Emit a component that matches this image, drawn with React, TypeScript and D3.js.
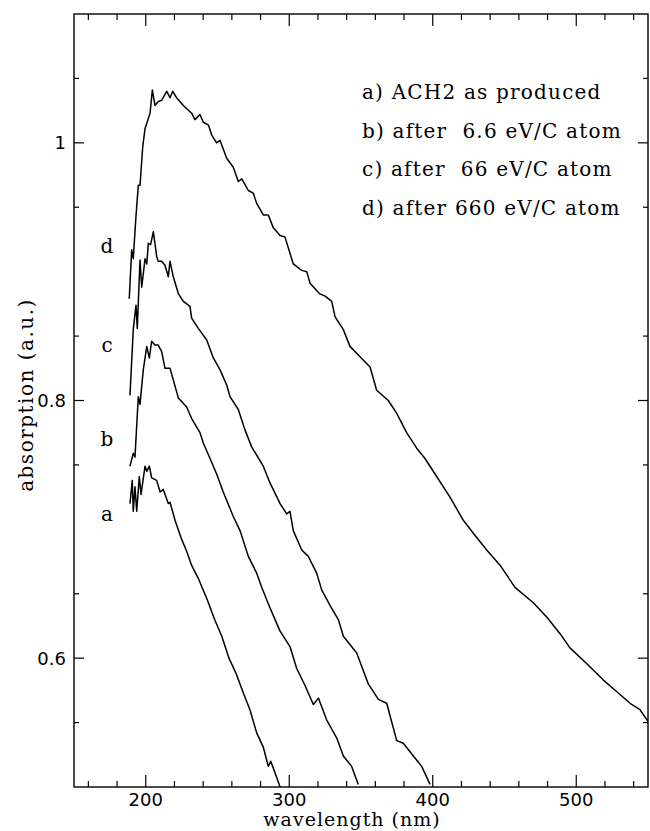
import React from "react";
import * as d3 from "d3";

// ---- data ----
const aNm = [189, 190.6, 191.3, 192.5, 193.7, 195.5, 196.7, 199.5, 200.7, 202.5, 204.1, 207.6, 210, 212.2, 215.7, 216.9, 220.4, 225.1, 228.5, 232, 236.6, 243, 248, 253, 258, 263, 268, 272.6, 277.3, 281.9, 285.4, 287.1, 290.1, 293.6];
const aVal = [0.72, 0.738, 0.714, 0.733, 0.714, 0.741, 0.727, 0.749, 0.745, 0.749, 0.74, 0.738, 0.729, 0.731, 0.72, 0.721, 0.707, 0.692, 0.683, 0.672, 0.662, 0.645, 0.63, 0.617, 0.6, 0.588, 0.573, 0.56, 0.542, 0.531, 0.516, 0.52, 0.511, 0.5];

const bNm = [189, 191.3, 192.5, 194.8, 196, 198.3, 200.7, 202.5, 204.1, 206.4, 208.7, 211.1, 213.4, 216.9, 219.2, 222.7, 228.5, 232, 237.8, 240.1, 244.8, 249.4, 254, 261, 265.7, 271.5, 277.3, 280.8, 286.6, 293.6, 300.5, 305.2, 310.9, 316.8, 320.3, 326.1, 333.1, 337.7, 343.5, 348.1];
const bVal = [0.749, 0.759, 0.756, 0.803, 0.797, 0.824, 0.842, 0.833, 0.846, 0.843, 0.843, 0.838, 0.825, 0.825, 0.816, 0.802, 0.795, 0.786, 0.775, 0.767, 0.755, 0.743, 0.729, 0.71, 0.699, 0.679, 0.666, 0.655, 0.639, 0.621, 0.609, 0.592, 0.579, 0.564, 0.569, 0.552, 0.538, 0.524, 0.516, 0.502];

const cNm = [189, 191.3, 193.2, 194.1, 196, 197.2, 199.5, 200.7, 201.8, 203.4, 205.3, 207.6, 208.7, 211.1, 213.4, 215.7, 216.9, 219.2, 222.7, 226.2, 230.8, 232, 236.6, 242.5, 247.1, 251.7, 256.4, 258.7, 264.5, 269.2, 273.8, 281.9, 286.6, 293.6, 298.2, 300.5, 302.8, 308.7, 313.3, 319.1, 322.6, 328.4, 334.2, 337.7, 347, 355.1, 362.1, 367.9, 374.9, 379.5, 386.5, 392.3, 398.1];
const cVal = [0.804, 0.855, 0.874, 0.856, 0.909, 0.888, 0.91, 0.906, 0.922, 0.921, 0.931, 0.912, 0.908, 0.908, 0.905, 0.896, 0.908, 0.896, 0.883, 0.877, 0.873, 0.864, 0.856, 0.847, 0.833, 0.824, 0.812, 0.803, 0.793, 0.777, 0.764, 0.749, 0.736, 0.72, 0.712, 0.714, 0.699, 0.684, 0.679, 0.666, 0.653, 0.641, 0.63, 0.617, 0.604, 0.58, 0.568, 0.565, 0.536, 0.534, 0.524, 0.516, 0.502];

const dNm = [188.5, 190.2, 191.3, 193, 194.8, 196, 197.9, 199.5, 201.8, 203, 204.6, 206.4, 208.7, 211.1, 214.6, 216.9, 218.8, 221.5, 226.2, 232, 234.3, 237.8, 240.1, 243.6, 246, 249.4, 251.7, 256.4, 261, 264.5, 266.9, 271.5, 274.9, 277.3, 281.9, 285.4, 288.9, 293.6, 297, 302.8, 308.7, 312.2, 314.5, 321, 325, 329.6, 331.9, 337.7, 342.3, 349.3, 356.3, 360.9, 369, 374.9, 381.8, 388.8, 394.6, 402.7, 412, 421.3, 428.3, 437.6, 447, 457.3, 470.1, 479.4, 488.7, 495.6, 507, 518.9, 529.3, 537.5, 544.4, 550];
const dVal = [0.879, 0.917, 0.91, 0.94, 0.967, 0.967, 0.997, 1.011, 1.019, 1.023, 1.041, 1.029, 1.032, 1.033, 1.04, 1.035, 1.04, 1.035, 1.029, 1.023, 1.018, 1.022, 1.016, 1.014, 1.006, 1.0, 1.002, 0.988, 0.981, 0.97, 0.972, 0.963, 0.961, 0.953, 0.944, 0.944, 0.934, 0.928, 0.927, 0.906, 0.901, 0.9, 0.891, 0.883, 0.881, 0.877, 0.865, 0.855, 0.842, 0.834, 0.826, 0.808, 0.8, 0.79, 0.775, 0.763, 0.755, 0.741, 0.725, 0.707, 0.697, 0.684, 0.672, 0.655, 0.643, 0.632, 0.619, 0.608, 0.596, 0.583, 0.573, 0.565, 0.56, 0.551];

const curveLetters = ["a", "b", "c", "d"];
const letterVal = [0.711, 0.769, 0.8425, 0.919];
const legendLines = [
  "a) ACH2 as produced",
  "b) after  6.6 eV/C atom",
  "c) after  66 eV/C atom",
  "d) after 660 eV/C atom",
];
const xTickLabels = [200, 300, 400, 500];
const yTickLabels = [0.6, 0.8, 1];

const W = 650;
const H = 831;
const L = 74, R = 648, T = 14, B = 787;

export default function App() {
  const x = d3.scaleLinear().domain([150, 550]).range([L, R]);
  const y = d3.scaleLinear().domain([0.5, 1.1]).range([B, T]);
  const line = d3
    .line<[number, number]>()
    .x((p) => x(p[0]))
    .y((p) => y(p[1]));
  const series = [
    d3.zip(aNm, aVal) as [number, number][],
    d3.zip(bNm, bVal) as [number, number][],
    d3.zip(cNm, cVal) as [number, number][],
    d3.zip(dNm, dVal) as [number, number][],
  ];
  const xMinor = d3.range(160, 550, 20).filter((v) => v % 100 !== 0);
  const yMinor = d3.range(0.55, 1.1, 0.1).map((v) => +v.toFixed(2));

  const serif = "'DejaVu Serif', serif";
  const sans = "'DejaVu Sans', sans-serif";
  const legendY0 = 99;
  const legendDy = 38.6;

  return (
    <svg
      width={W}
      height={H}
      style={{ position: "absolute", left: 0, top: 0, background: "#fff" }}
    >
      <defs>
        <clipPath id="plot">
          <rect x={L} y={T} width={R - L} height={B - T} />
        </clipPath>
      </defs>
      <rect x={0} y={0} width={W} height={H} fill="#fff" />
      {/* frame */}
      <rect x={L} y={T} width={R - L} height={B - T} fill="none" stroke="#000" strokeWidth={1.4} />
      {/* x ticks */}
      {xTickLabels.map((v) => (
        <g key={"xm" + v}>
          <line x1={x(v)} x2={x(v)} y1={B} y2={B - 12} stroke="#000" strokeWidth={1.2} />
          <line x1={x(v)} x2={x(v)} y1={T} y2={T + 12} stroke="#000" strokeWidth={1.2} />
          <text x={x(v)} y={806} textAnchor="middle" fontFamily={sans} fontSize={18}>
            {v}
          </text>
        </g>
      ))}
      {xMinor.map((v) => (
        <g key={"xn" + v}>
          <line x1={x(v)} x2={x(v)} y1={B} y2={B - 6} stroke="#000" strokeWidth={1.2} />
          <line x1={x(v)} x2={x(v)} y1={T} y2={T + 6} stroke="#000" strokeWidth={1.2} />
        </g>
      ))}
      {/* y ticks */}
      {yTickLabels.map((v) => (
        <g key={"ym" + v}>
          <line x1={L} x2={L + 10} y1={y(v)} y2={y(v)} stroke="#000" strokeWidth={1.2} />
          <line x1={R} x2={R - 10} y1={y(v)} y2={y(v)} stroke="#000" strokeWidth={1.2} />
          <text x={66} y={y(v) + 6.5} textAnchor="end" fontFamily={sans} fontSize={18}>
            {v === 1 ? "1" : v.toFixed(1)}
          </text>
        </g>
      ))}
      {yMinor.map((v) => (
        <g key={"yn" + v}>
          <line x1={L} x2={L + 5} y1={y(v)} y2={y(v)} stroke="#000" strokeWidth={1.2} />
          <line x1={R} x2={R - 5} y1={y(v)} y2={y(v)} stroke="#000" strokeWidth={1.2} />
        </g>
      ))}
      {/* curves */}
      <g clipPath="url(#plot)">
        {series.map((s, i) => (
          <path key={i} d={line(s) || ""} fill="none" stroke="#000" strokeWidth={1.5} strokeLinejoin="round" />
        ))}
      </g>
      {/* curve letters */}
      {curveLetters.map((c, i) => (
        <text key={c} x={107} y={y(letterVal[i]) + 6} textAnchor="middle" fontFamily={serif} fontSize={20}>
          {c}
        </text>
      ))}
      {/* legend */}
      {legendLines.map((t, i) => (
        <text
          key={i}
          x={362}
          y={legendY0 + i * legendDy}
          fontFamily={serif}
          fontSize={20}
          letterSpacing={1.2}
          style={{ whiteSpace: "pre" }}
        >
          {t}
        </text>
      ))}
      {/* axis titles */}
      <text x={352} y={826} textAnchor="middle" fontFamily={serif} fontSize={19} letterSpacing={1}>
        wavelength (nm)
      </text>
      <text
        transform={`translate(33, 395) rotate(-90)`}
        textAnchor="middle"
        fontFamily={serif}
        fontSize={20}
        letterSpacing={1.5}
      >
        absorption (a.u.)
      </text>
    </svg>
  );
}
